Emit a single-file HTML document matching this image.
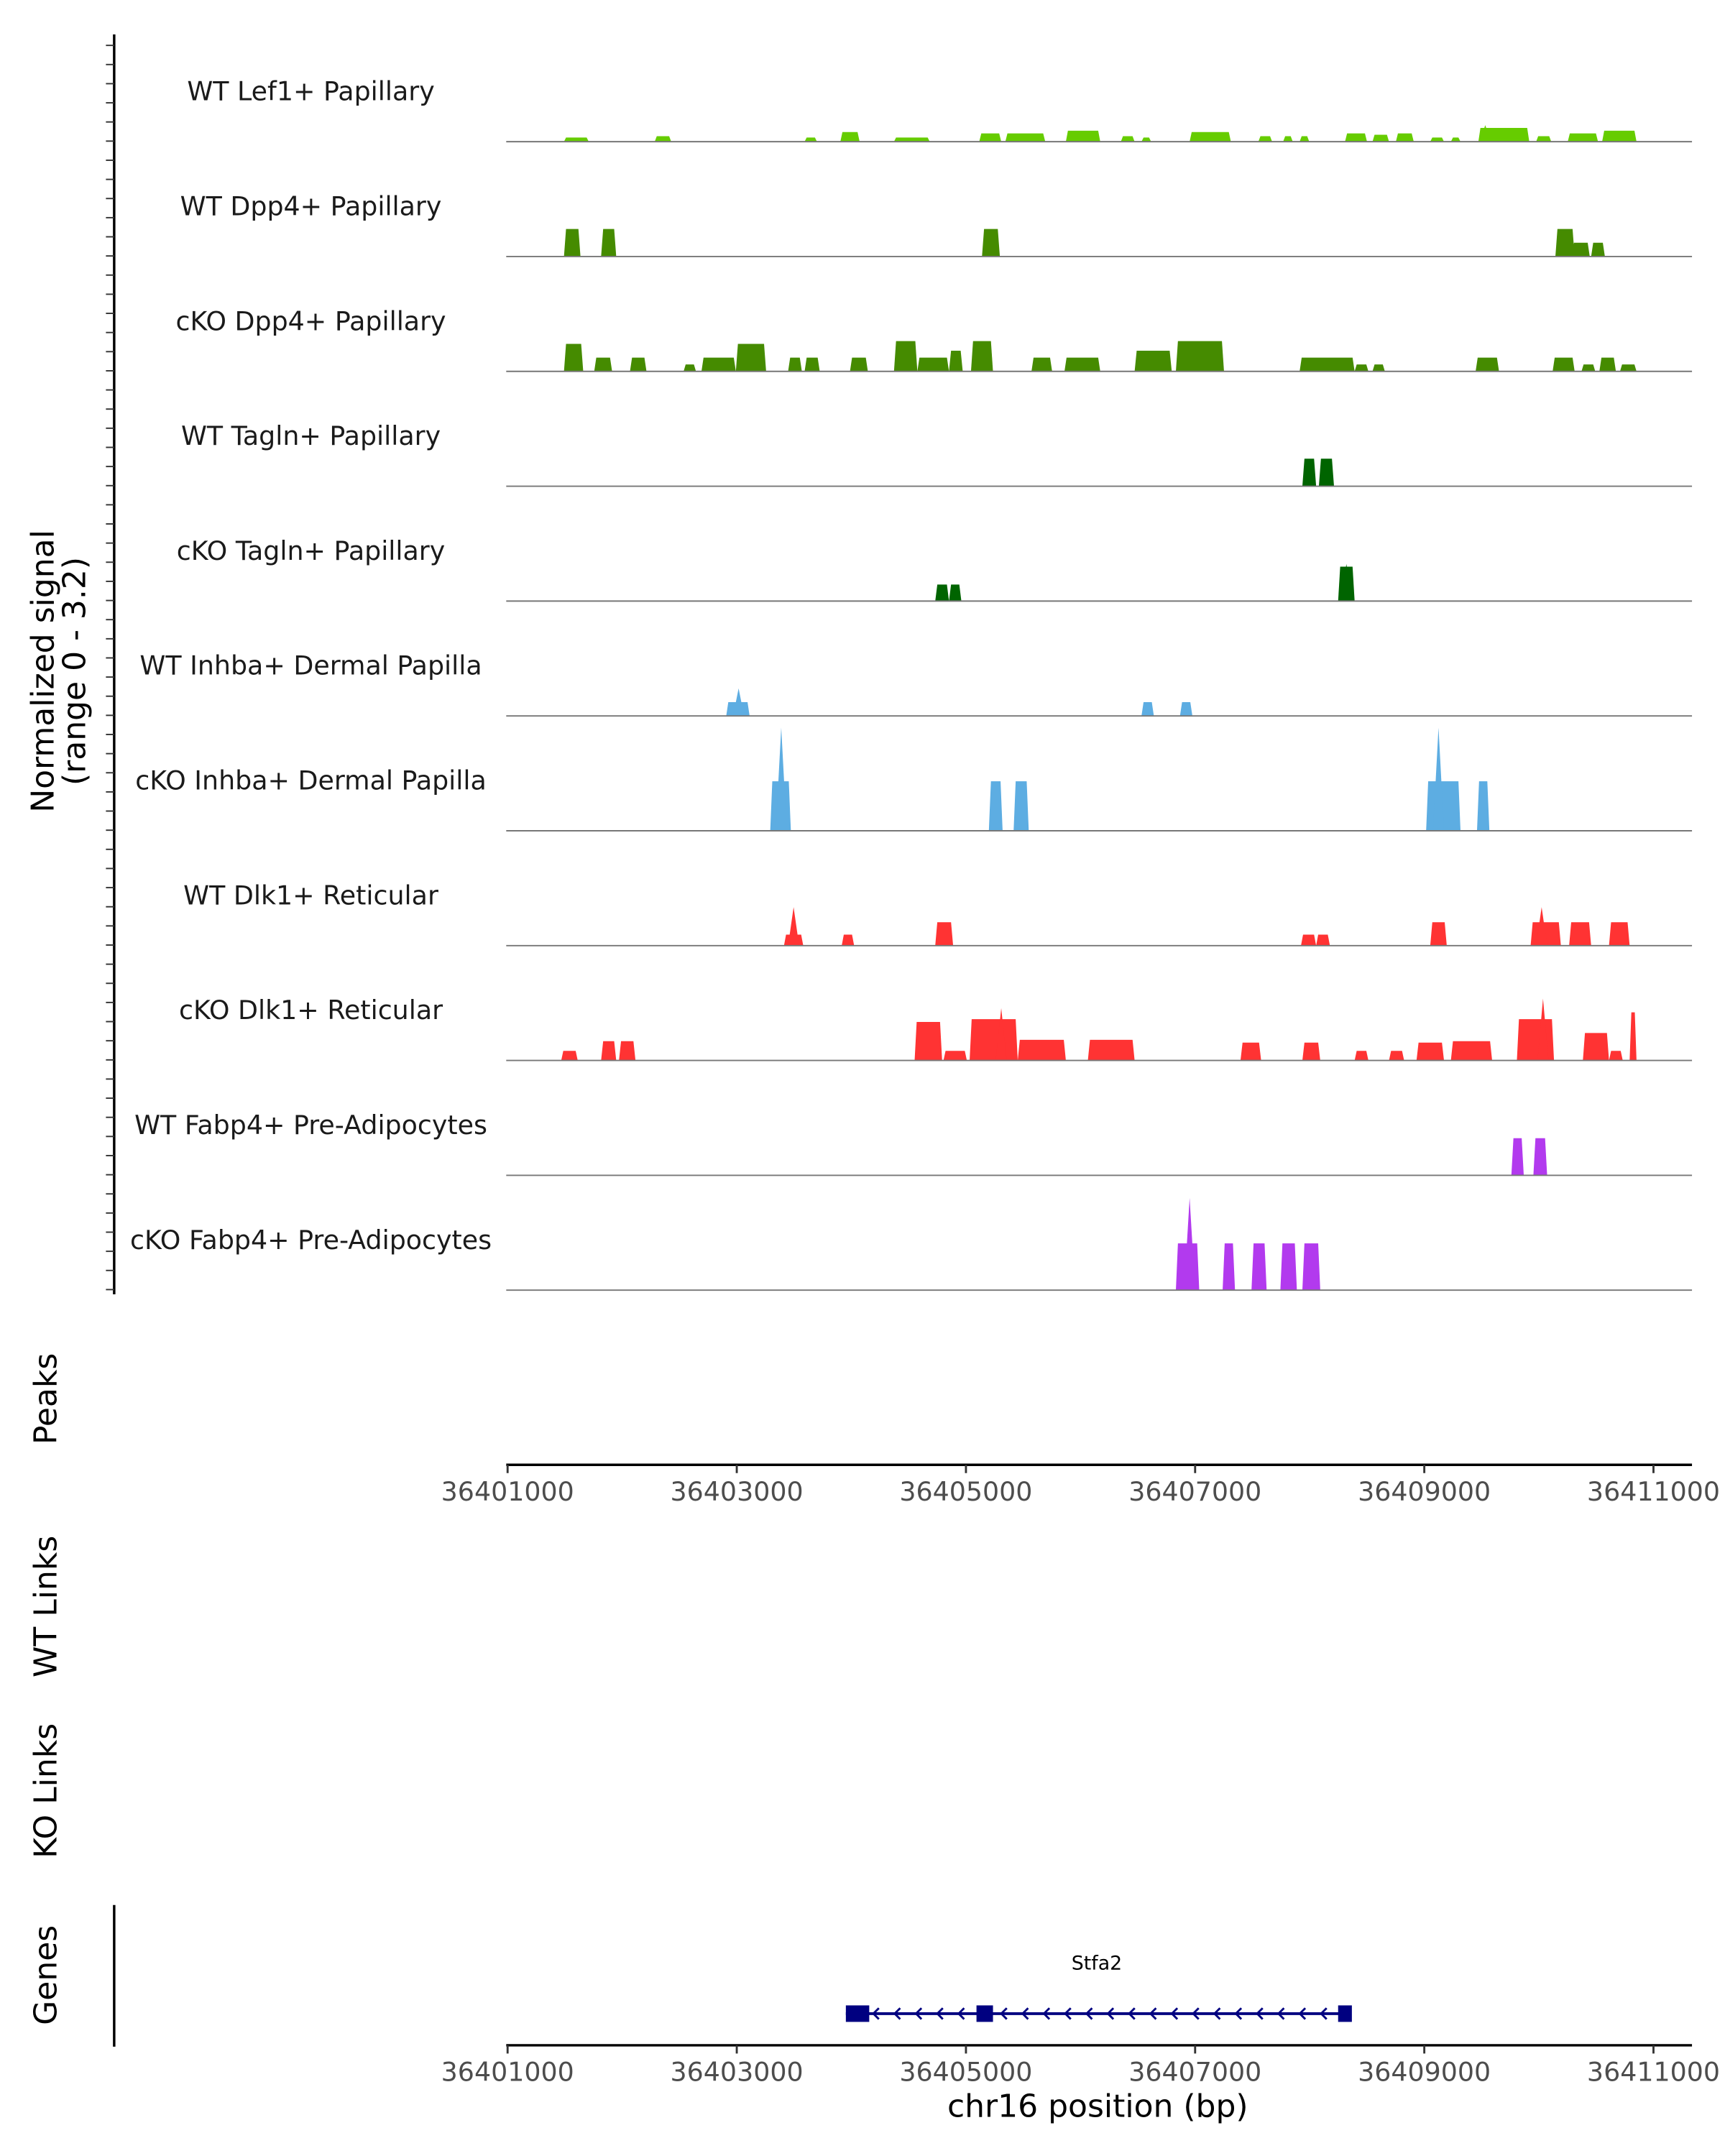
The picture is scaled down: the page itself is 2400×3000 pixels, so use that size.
<!DOCTYPE html>
<html><head><meta charset="utf-8"><style>html,body{margin:0;padding:0;background:#fff}svg{display:block}text{font-family:"DejaVu Sans","Liberation Sans",sans-serif}</style></head>
<body>
<svg id="chart" xmlns="http://www.w3.org/2000/svg" width="2400" height="3000" viewBox="0 0 1254 1567.5">
<rect width="1254" height="1567.5" fill="#fff"/>
<g id="tracks"></g>
<g id="axes"></g>
<g id="genes"></g>
</svg>
<script>
const REGION_START = 36401000;
const REGION_END = 36411300;
const xTicks = [36401000, 36403000, 36405000, 36407000, 36409000, 36411000];
const trackNames = ["WT Lef1+ Papillary","WT Dpp4+ Papillary","cKO Dpp4+ Papillary","WT Tagln+ Papillary","cKO Tagln+ Papillary","WT Inhba+ Dermal Papilla","cKO Inhba+ Dermal Papilla","WT Dlk1+ Reticular","cKO Dlk1+ Reticular","WT Fabp4+ Pre-Adipocytes","cKO Fabp4+ Pre-Adipocytes"];
const trackColors = ["#66CC00","#458B00","#458B00","#006400","#006400","#5DADE2","#5DADE2","#FF3333","#FF3333","#B23AEE","#B23AEE"];
const signalMax = 3.2;
// peaks: [startOffsetBp, endOffsetBp, value]
const peaks0 = [[492,708,0.12],[1284,1428,0.16],[2592,2700,0.12],[2904,3072,0.28],[3372,3684,0.12],[4116,4308,0.24],[4344,4692,0.24],[4872,5172,0.32],[5352,5472,0.16],[5532,5616,0.12],[5952,6312,0.28],[6552,6672,0.16],[6768,6852,0.16],[6912,6996,0.16],[7308,7500,0.24],[7548,7692,0.2],[7752,7908,0.24],[8052,8172,0.12],[8232,8316,0.12],[8472,8916,0.4],[8976,9108,0.16],[9252,9516,0.24],[9552,9852,0.32]];
const peaks1 = [[492,636,0.8],[816,948,0.8],[4140,4296,0.8],[9144,9312,0.8],[9288,9444,0.4],[9456,9576,0.4]];
const peaks2 = [[492,660,0.8],[756,912,0.4],[1068,1212,0.4],[1536,1644,0.2],[1692,1992,0.4],[1992,2256,0.8],[2448,2568,0.4],[2592,2724,0.4],[2988,3144,0.4],[3372,3576,0.88],[3576,3852,0.4],[3852,3972,0.6],[4044,4236,0.88],[4572,4752,0.4],[4860,5172,0.4],[5472,5796,0.6],[5832,6252,0.88],[6912,7392,0.4],[7392,7512,0.2],[7548,7656,0.2],[8448,8652,0.4],[9120,9312,0.4],[9372,9492,0.2],[9528,9672,0.4],[9708,9852,0.2]];
const peaks3 = [[6936,7056,0.8],[7080,7212,0.8]];
const peaks4 = [[3732,3852,0.48],[3852,3960,0.48],[7248,7392,1.0]];
const peaks5 = [[1908,2112,0.4],[5532,5640,0.4],[5868,5976,0.4]];
const peaks6 = [[2292,2472,1.44],[4200,4320,1.44],[4416,4548,1.44],[8016,8316,1.44],[8460,8568,1.44]];
const peaks7 = [[2412,2580,0.32],[2916,3024,0.32],[3732,3888,0.68],[6924,7056,0.32],[7056,7176,0.32],[8052,8196,0.68],[8928,9192,0.68],[9264,9456,0.68],[9612,9792,0.68]];
const peaks8 = [[468,612,0.28],[816,948,0.56],[972,1116,0.56],[3552,3792,1.12],[3804,4008,0.28],[4032,4452,1.2],[4452,4872,0.6],[5064,5472,0.6],[6396,6576,0.52],[6936,7092,0.52],[7392,7512,0.28],[7692,7824,0.28],[7932,8172,0.52],[8232,8592,0.56],[8808,9132,1.2],[9384,9612,0.8],[9612,9732,0.28],[9792,9852,1.4]];
const peaks9 = [[8760,8868,1.08],[8952,9072,1.08]];
const peaks10 = [[5832,6036,1.36],[6240,6348,1.36],[6492,6624,1.36],[6744,6888,1.36],[6936,7092,1.36]];
const allPeaks = [peaks0,peaks1,peaks2,peaks3,peaks4,peaks5,peaks6,peaks7,peaks8,peaks9,peaks10];
// spikes: [trackIndex, offsetBp, value]
const spikes = [[0,8532,0.48],[4,7320,1.08],[5,2016,0.8],[6,2388,3.0],[6,8124,3.0],[7,2496,1.12],[7,9024,1.12],[8,4308,1.52],[8,9036,1.8],[10,5952,2.68]];
const geneName = "Stfa2";
const geneStart = 2952, geneEnd = 7332;
const exons = [[2952,3156],[4092,4236],[7248,7368]];

const NS="http://www.w3.org/2000/svg";
function mk(tag, attrs, parent, text){const e=document.createElementNS(NS,tag);for(const k in attrs)e.setAttribute(k,attrs[k]);if(text!==undefined)e.textContent=text;parent.appendChild(e);return e;}
const X0=369, X1=1202;
function xScale(bp){return X0+(bp-REGION_START)/(xTicks[xTicks.length-1]-REGION_START)*(X1-X0);}
function xOff(o){return xScale(REGION_START+o);}
const TH=80;
function base(i){return 103+i*83.5;}
function yScale(i,v){return base(i)-v/signalMax*TH;}

const tg=document.getElementById('tracks');
trackNames.forEach((name,i)=>{
  const g=mk('g',{},tg);
  
  
  const lbl=mk('text',{x:226,y:base(i)-30,'text-anchor':'middle','font-size':19,fill:'#1a1a1a'},g,name);
  
  
  allPeaks[i].forEach(p=>{
    const a=xOff(p[0]), b=xOff(p[1]), y=yScale(i,p[2]), b0=base(i), s=Math.min(1.5,(b-a)/4);
    const poly=mk('polygon',{points:`${a},${b0} ${a+s},${y} ${b-s},${y} ${b},${b0}`,fill:trackColors[i]},g);
    
    
  });
  spikes.filter(s=>s[0]===i).forEach(s=>{
    const c=xOff(s[1]), y=yScale(i,s[2]), b0=base(i);
    const poly=mk('polygon',{points:`${c-4},${b0} ${c},${y} ${c+4},${b0}`,fill:trackColors[i]},g);
    
    
  });
  const ln=mk('line',{x1:368,x2:1230,y1:base(i),y2:base(i),stroke:'#777','stroke-width':1},g);
  
  
});

const ax=document.getElementById('axes');
mk('line',{x1:83,x2:83,y1:25,y2:941,stroke:'#000','stroke-width':1.8},ax);
for(let y=33;y<=941;y+=83.5/6){mk('line',{x1:77,x2:83,y1:y,y2:y,stroke:'#333','stroke-width':1},ax);}
const yt=mk('text',{transform:'translate(41,488) rotate(-90)','text-anchor':'middle','font-size':23,fill:'#000'},ax);


mk('tspan',{x:0,dy:-2},yt,'Normalized signal');
mk('tspan',{x:0,dy:23},yt,'(range 0 - 3.2)');
[["Peaks",1017],["WT Links",1168],["KO Links",1302],["Genes",1436]].forEach(([t,y])=>{
  const e=mk('text',{transform:`translate(41,${y}) rotate(-90)`,'text-anchor':'middle','font-size':23,fill:'#000'},ax,t);
  
  
});
function xAxis(y,name){
  const g=mk('g',{},ax);
  
  
  mk('line',{x1:368,x2:1230,y1:y,y2:y,stroke:'#000','stroke-width':1.8},g);
  xTicks.forEach(t=>{const x=xScale(t);mk('line',{x1:x,x2:x,y1:y,y2:y+6,stroke:'#333','stroke-width':1.5},g);
    mk('text',{x:x,y:y+26,'text-anchor':'middle','font-size':19,fill:'#4d4d4d'},g,String(t));});
}
xAxis(1065,'peaks-x-axis');
xAxis(1487,'x-axis');
const xt=mk('text',{x:798,y:1539,'text-anchor':'middle','font-size':23,fill:'#000'},ax,'chr16 position (bp)');


mk('line',{x1:83,x2:83,y1:1385,y2:1488,stroke:'#000','stroke-width':1.8},ax);

const gg=document.getElementById('genes');
const gl=mk('text',{x:(xOff(geneStart)+xOff(geneEnd))/2,y:1432,'text-anchor':'middle','font-size':14,fill:'#000'},gg,geneName);


mk('line',{x1:xOff(geneStart),x2:xOff(geneEnd),y1:1464,y2:1464,stroke:'#000080','stroke-width':2},gg);
for(let x=xOff(geneStart)+20;x<xOff(geneEnd)-8;x+=15.5){
  mk('polyline',{points:`${x+4},${1460} ${x},${1464} ${x+4},${1468}`,fill:'none',stroke:'#000080','stroke-width':1.5},gg);
}
exons.forEach(e=>{const r=mk('rect',{x:xOff(e[0]),y:1458,width:xOff(e[1])-xOff(e[0]),height:12,fill:'#000080'},gg);
  
  });
</script>
</body></html>
